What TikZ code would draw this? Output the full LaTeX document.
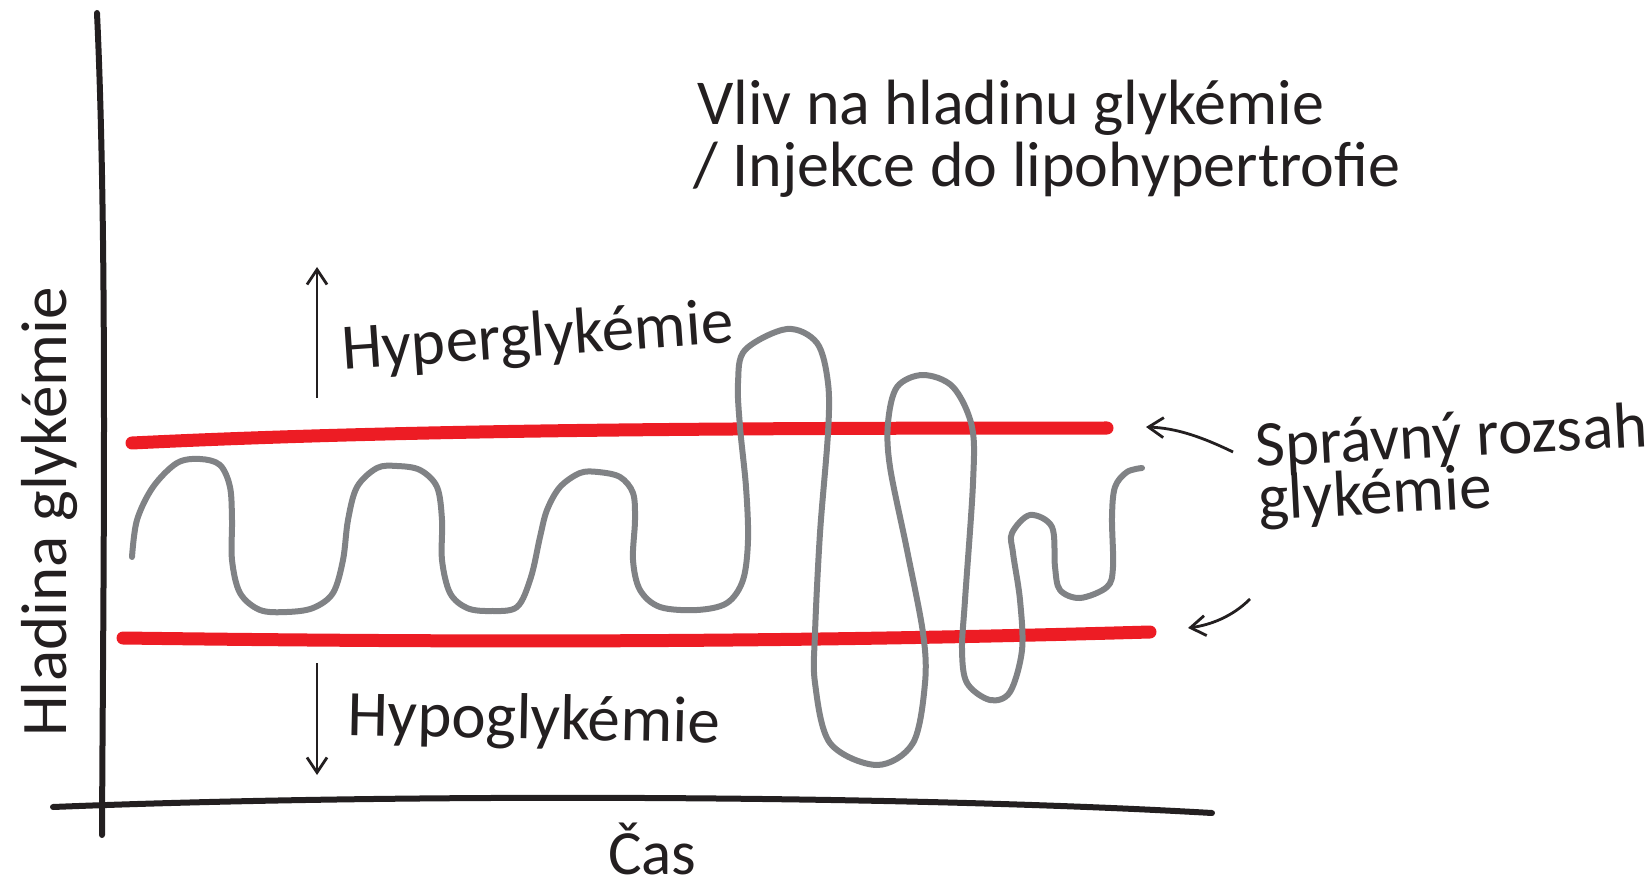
\documentclass[tikz,border=0pt]{standalone}
\usepackage{fontspec}
\setmainfont{Carlito}
\usetikzlibrary{arrows.meta}
\definecolor{ink}{HTML}{231F20}
\definecolor{rangered}{HTML}{ED1C24}
\definecolor{curvegray}{HTML}{808285}

\begin{document}
\begin{tikzpicture}[x=1pt,y=-1pt,
	axis/.style={draw=ink, line width=6pt, line cap=round},
	limit/.style={draw=rangered, line width=13pt, line cap=round},
	level/.style={draw=curvegray, line width=6pt, line cap=round, line join=round},
	pointer/.style={draw=ink, line width=2.8pt, -{Straight Barb[length=15pt,width=20pt]}},
	lbl/.style={text=ink, inner sep=0pt, anchor=base west, font=\fontsize{65}{62}\selectfont}]
	\useasboundingbox (0,0) rectangle (1652,882);
	% axes
	\draw[axis] (97,13) .. controls (108,250) and (103,600) .. (102,835);
	\draw[axis] (53,807) .. controls (400,793) and (900,795) .. (1212,813);
	% range limits
	\draw[limit] (132,443) .. controls (400,430) and (700,428) .. (1107,428);
	\draw[limit] (123,638) .. controls (500,643) and (800,642) .. (1150,632);
	% glycaemia curve
	\draw[level] plot[smooth, tension=0.55] coordinates {
	(132,557) (137,520) (153,487) (177,463) (200,459) (220,465) (230,487)
	(232,520) (232,560) (240,593) (260,610) (287,612) (313,608) (333,593)
	(343,560) (348,520) (357,487) (377,468) (397,466) (420,470) (437,487)
	(442,520) (442,560) (450,593) (467,608) (490,611) (517,607) (531,577)
	(540,537) (547,510) (560,487) (580,473) (598,472) (620,477) (633,493)
	(635,520) (633,560) (640,590) (660,607) (697,610) (727,603) (743,580)
	(748,540) (746,487) (740,427) (738,383) (745,350) (787,329) (817,343)
	(828,383) (828,433) (820,533) (815,633) (815,683) (830,743) (877,765)
	(913,743) (925,683) (923,633) (907,550) (890,467) (888,423) (897,387)
	(923,375) (953,387) (972,427) (973,483) (965,600) (962,650) (967,683)
	(990,700) (1010,692) (1022,650) (1020,600) (1013,553) (1012,533)
	(1030,515) (1052,527) (1055,567) (1060,590) (1080,598) (1107,587)
	(1113,567) (1112,517) (1115,487) (1127,472) (1142,468)};
	% labels
	\node[lbl, font=\fontsize{64}{62}\selectfont] (title) at (697,125) {Vliv na hladinu glykémie};
	\node[lbl, font=\fontsize{64}{62}\selectfont] (subtitle) at (693,187) {/ Injekce do lipohypertrofie};
	\node[lbl, rotate=90] (ylabel) at (66,737) {Hladina glykémie};
	\node[lbl, font=\fontsize{63}{63}\selectfont] (xlabel) at (608,874) {Čas};
	\node[lbl, rotate=4] (hyper) at (343,370) {Hyperglykémie};
	\node[lbl, rotate=-1.2] (hypo) at (347,735) {Hypoglykémie};
	\node[lbl, rotate=3] (range) at (1256,467) {Správný rozsah};
	\node[lbl, rotate=3] (range2) at (1259,520) {glykémie};
	% arrows
	\coordinate (upTail) at (317,398);
	\coordinate (upTip) at (317,267);
	\coordinate (downTail) at (317,663);
	\coordinate (downTip) at (317,775);
	\coordinate (hiTail) at (1233,452);
	\coordinate (hiTip) at (1146,427);
	\coordinate (loTail) at (1250,599);
	\coordinate (loTip) at (1188,628);
	\draw[pointer] (upTail) -- (upTip);
	\draw[pointer] (downTail) -- (downTip);
	\draw[pointer] (hiTail) .. controls (1200,436) and (1175,428) .. (hiTip);
	\draw[pointer] (loTail) .. controls (1232,617) and (1210,625) .. (loTip);
\end{tikzpicture}
\end{document}
